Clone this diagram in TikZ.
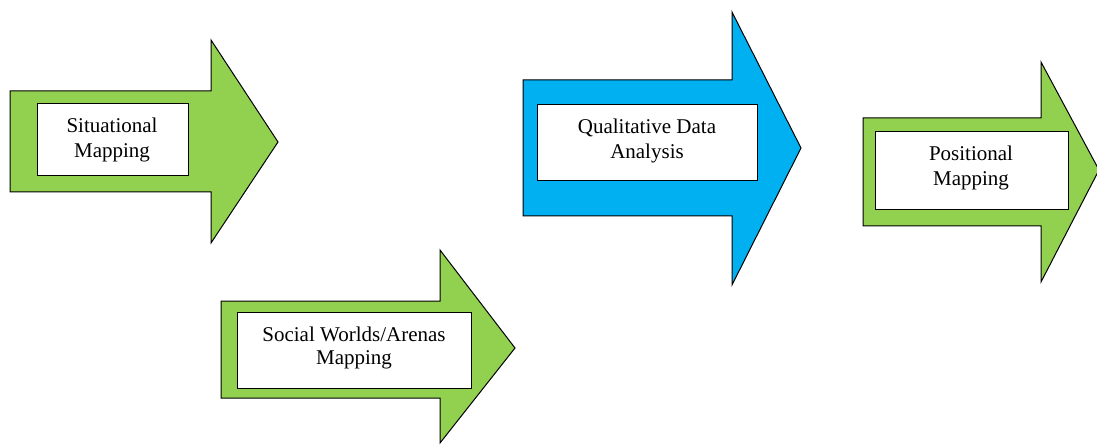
\documentclass[tikz,border=0pt]{standalone}
\usepackage{fontspec}
\setmainfont{Liberation Serif}
\definecolor{arrowgreen}{HTML}{92D050}
\definecolor{arrowblue}{HTML}{00B0F0}
\tikzset{
  fatarrow/.style={draw=black, line width=1pt, line join=miter},
  labelbox/.style={draw=black, fill=white, line width=1pt},
  labeltext/.style={align=center, inner sep=0pt, font=\fontsize{21}{25}\selectfont},
}
% block arrow: left, body top, body bottom, head base, head top, head bottom, tip x, tip y
\newcommand\blockarrow[9]{%
  \draw[fatarrow, fill=#1] (#2,#3) -- (#5,#3) -- (#5,#6) -- (#8,#9) -- (#5,#7) -- (#5,#4) -- (#2,#4) -- cycle;}
\begin{document}
\begin{tikzpicture}[x=1pt, y=-1pt]
  \useasboundingbox (0,0) rectangle (1097,446);

  % Situational Mapping
  \blockarrow{arrowgreen}{10}{91}{192}{211}{40}{243}{278}{142}
  \node[labelbox, minimum width=151pt, minimum height=72pt] (sitbox) at (112.5,140) {};
  \node[labeltext] (sit) at (112,139.5) {Situational\\Mapping};

  % Social Worlds/Arenas Mapping
  \blockarrow{arrowgreen}{221}{301}{398}{440}{250}{443}{515}{348}
  \node[labelbox, minimum width=234pt, minimum height=76pt] (socbox) at (354,350) {};
  \node[labeltext, font=\fontsize{21}{23}\selectfont] (soc) at (354,348) {Social Worlds/Arenas\\Mapping};

  % Qualitative Data Analysis
  \blockarrow{arrowblue}{523}{80}{216}{732}{12}{285}{801}{148}
  \node[labelbox, minimum width=220pt, minimum height=76pt] (qdabox) at (647,143) {};
  \node[labeltext] (qda) at (647,141) {Qualitative Data\\Analysis};

  % Positional Mapping
  \blockarrow{arrowgreen}{863}{118}{226}{1041}{62}{282}{1099}{170}
  \node[labelbox, minimum width=193pt, minimum height=78pt] (posbox) at (971.5,171) {};
  \node[labeltext] (pos) at (971,167.5) {Positional\\Mapping};
\end{tikzpicture}
\end{document}
